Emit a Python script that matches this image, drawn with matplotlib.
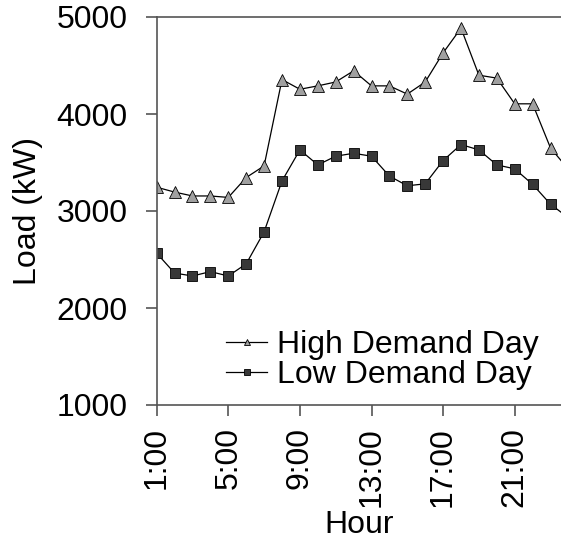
import matplotlib
matplotlib.use("Agg")
import matplotlib.pyplot as plt

plt.rcParams['font.family'] = ['Liberation Sans', 'DejaVu Sans']

# Hourly load, kW
hours = list(range(1, 25))
high_demand = [3245, 3195, 3155, 3155, 3140, 3345, 3465, 4355, 4255, 4290,
               4330, 4445, 4290, 4290, 4205, 4330, 4630, 4885, 4400, 4370,
               4105, 4105, 3650, 3430]
low_demand = [2565, 2360, 2330, 2375, 2330, 2455, 2785, 3310, 3630, 3475,
              3565, 3595, 3565, 3360, 3260, 3280, 3520, 3685, 3630, 3475,
              3435, 3275, 3070, 2930]
tick_hours = [1, 5, 9, 13, 17, 21]
tick_labels = ['1:00', '5:00', '9:00', '13:00', '17:00', '21:00']

fig = plt.figure(figsize=(5.61, 5.44), dpi=100)
ax = fig.add_axes([156.7 / 561, (544 - 405) / 544, 1 - 156.7 / 561, (405 - 17) / 544])

ax.plot(hours, high_demand, color='black', lw=0.9, marker='^', ms=8,
        mfc='#a0a0a0', mec='black', mew=0.6, label='High Demand Day')
ax.plot(hours, low_demand, color='black', lw=0.9, marker='s', ms=6.5,
        mfc='#383838', mec='black', mew=0.6, label='Low Demand Day')

ax.set_xlim(1, 1 + (561 - 156.7) / 17.9)
ax.set_ylim(1000, 5000)
ax.set_yticks([1000, 2000, 3000, 4000, 5000])
ax.set_xticks(tick_hours)
ax.set_xticklabels(tick_labels, rotation=90)

ax.set_xlabel('Hour', fontsize=23, labelpad=2)
ax.set_ylabel('Load (kW)', fontsize=23, labelpad=10)

for side in ['left', 'bottom', 'top']:
    ax.spines[side].set_color('#555555')
    ax.spines[side].set_linewidth(1.2)
ax.spines['right'].set_visible(False)
ax.tick_params(axis='both', direction='out', length=8, width=1.2,
               color='#555555', labelsize=23)
ax.tick_params(axis='x', pad=8)
ax.tick_params(axis='y', pad=13)

ax.legend(loc='lower right', bbox_to_anchor=(1.0, -0.02), frameon=False,
          fontsize=23, markerscale=0.6, handlelength=1.3, handletextpad=0.3,
          labelspacing=0.0, borderpad=0.2)

fig.savefig('out.png', dpi=100)
